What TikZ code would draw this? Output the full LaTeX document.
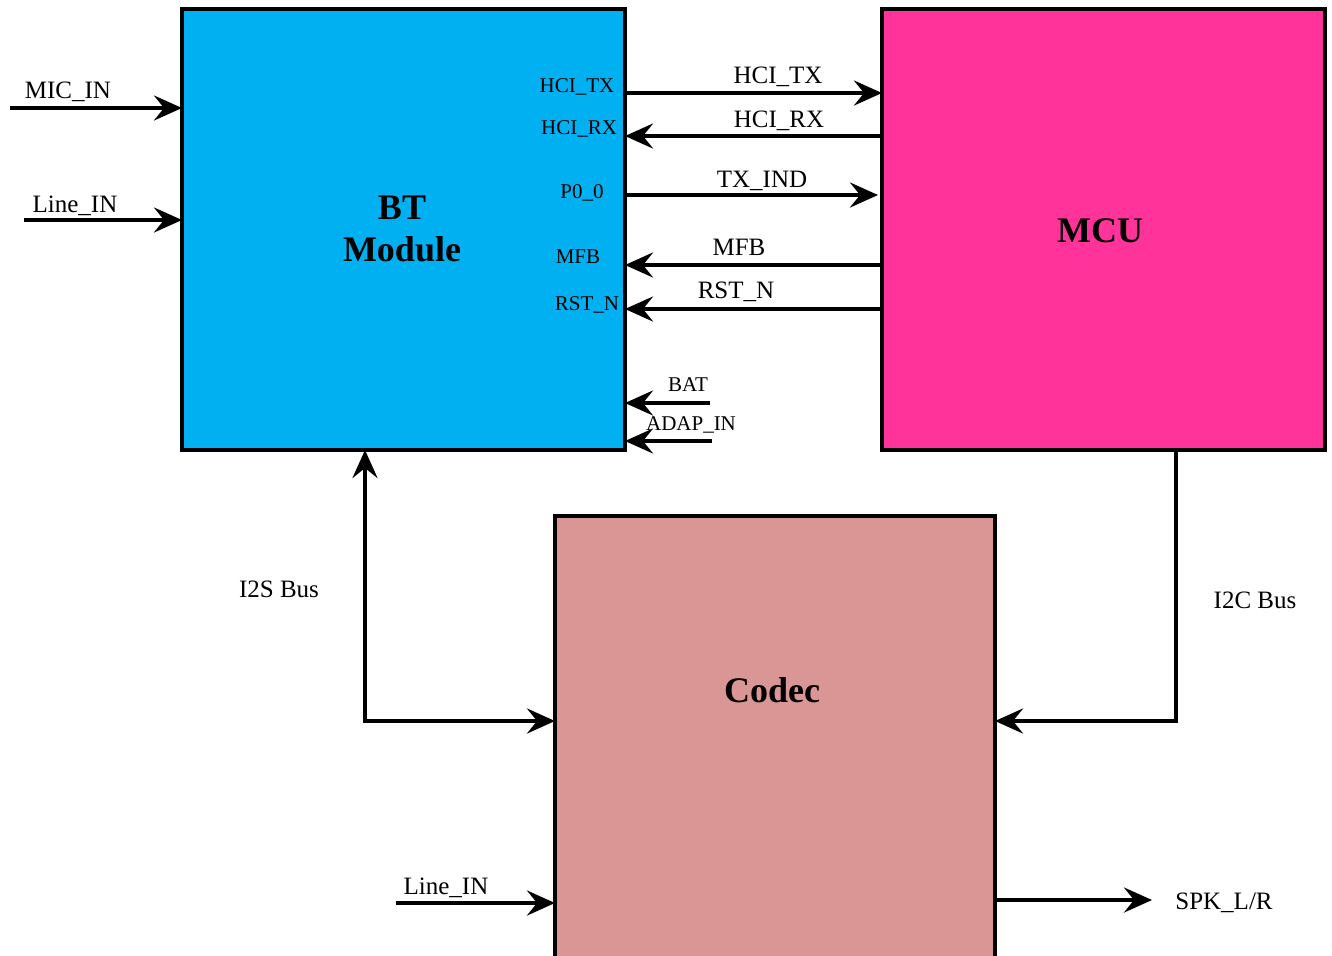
\documentclass[tikz,border=0pt]{standalone}
\usepackage{fontspec}
\setmainfont{Liberation Serif}
\usetikzlibrary{arrows.meta}
\definecolor{btcol}{HTML}{00B0F0}
\definecolor{mcucol}{HTML}{FF3399}
\definecolor{codeccol}{HTML}{D99694}
\tikzset{tip/.tip={Stealth[length=14pt,width=12.5pt,inset=5pt]}}
\begin{document}
\begin{tikzpicture}[x=0.5pt,y=-0.5pt,
  blk/.style={draw=black,line width=2.2pt,inner sep=0pt,outer sep=0pt},
  wire/.style={line width=2pt,-tip},
  bwire/.style={line width=2pt,tip-tip},
  lbl/.style={font=\fontsize{12.5}{14}\selectfont,anchor=base,inner sep=0pt},
  ilbl/.style={font=\fontsize{10.5}{12}\selectfont,anchor=base,inner sep=0pt},
  ttl/.style={font=\fontsize{18}{21}\selectfont\bfseries,align=center,inner sep=0pt}]
\useasboundingbox (0,0) rectangle (1332,955);
\clip (0,0) rectangle (1332,955);
% blocks
\node[blk,fill=btcol,minimum width=221.5pt,minimum height=220.5pt] (bt) at (403.5,229.5) {};
\node[blk,fill=mcucol,minimum width=221.5pt,minimum height=220.5pt] (mcu) at (1103.5,229.5) {};
\node[blk,fill=codeccol,minimum width=220pt,minimum height=242pt] (codec) at (775,758) {};
% titles
\node[ttl] (btt) at (402,229) {BT\\Module};
\node[ttl] (mcut) at (1100,231) {MCU};
\node[ttl] (codect) at (772,690) {Codec};
% free ends
\coordinate (micin) at (10,108);
\coordinate (linein) at (24,220);
\coordinate (bat) at (710,403);
\coordinate (adap) at (712,441);
\coordinate (cline) at (396,903);
\coordinate (spk) at (1152,900);
\coordinate (i2sx) at (365,0);
\coordinate (i2cx) at (1176,0);
% left inputs
\draw[wire] (micin) -- (bt.west |- micin);
\draw[wire] (linein) -- (bt.west |- linein);
% BT <-> MCU
\draw[wire] (bt.east |- 0,93) -- (mcu.west |- 0,93);
\draw[wire] (mcu.west |- 0,136) -- (bt.east |- 0,136);
\draw[wire] (bt.east |- 0,195) -- (878,195);
\draw[wire] (mcu.west |- 0,265) -- (bt.east |- 0,265);
\draw[wire] (mcu.west |- 0,309) -- (bt.east |- 0,309);
% power
\draw[wire] (bat) -- (bt.east |- bat);
\draw[wire] (adap) -- (bt.east |- adap);
% buses
\draw[bwire] (bt.south -| i2sx) |- (codec.west |- 0,721);
\draw[wire] (mcu.south -| i2cx) |- (codec.east |- 0,721);
% codec io
\draw[wire] (cline) -- (codec.west |- cline);
\draw[wire] (codec.east |- spk) -- (spk);
% labels
\node[lbl] (l1) at (68,98) {MIC\_IN};
\node[lbl] (l2) at (75,212) {Line\_IN};
\node[lbl] (l3) at (778,83) {HCI\_TX};
\node[lbl] (l4) at (779,127) {HCI\_RX};
\node[lbl] (l5) at (762,187) {TX\_IND};
\node[lbl] (l6) at (739,255) {MFB};
\node[lbl] (l7) at (736,298) {RST\_N};
\node[ilbl] (l8) at (688,391) {BAT};
\node[ilbl] (l9) at (691,430) {ADAP\_IN};
\node[ilbl] (i1) at (577,92) {HCI\_TX};
\node[ilbl] (i2) at (579,134) {HCI\_RX};
\node[ilbl] (i3) at (582,198) {P0\_0};
\node[ilbl] (i4) at (578,263) {MFB};
\node[ilbl] (i5) at (587,310) {RST\_N};
\node[lbl] (l10) at (279,597) {I2S Bus};
\node[lbl] (l11) at (1255,608) {I2C Bus};
\node[lbl] (l12) at (446,894) {Line\_IN};
\node[lbl] (l13) at (1224,909) {SPK\_L/R};
\end{tikzpicture}
\end{document}
